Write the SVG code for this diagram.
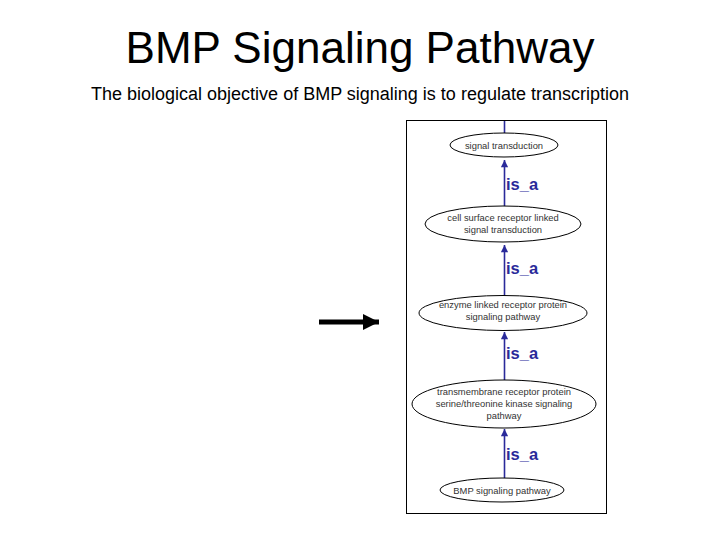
<svg xmlns="http://www.w3.org/2000/svg" width="720" height="540" viewBox="0 0 720 540">
<defs>
<style>
.title{font-family:"Liberation Sans",Arial,sans-serif;font-size:44px;fill:#000}
.sub{font-family:"Liberation Sans",Arial,sans-serif;font-size:18px;fill:#000}
.node ellipse{fill:#fff;stroke:#000;stroke-width:1}
.node text{font-family:"Liberation Sans",Arial,sans-serif;font-size:9.4px;fill:#333;text-anchor:middle}
.edge{stroke:#2a2a9a;stroke-width:1.6;fill:none}
.lbl{font-family:"Liberation Sans",Arial,sans-serif;font-size:16.5px;font-weight:bold;fill:#2a2a9a}
</style>
<marker id="ah" viewBox="0 0 10 10" refX="10" refY="5" markerWidth="6" markerHeight="4.5" orient="auto" markerUnits="strokeWidth">
<path d="M0,0 L10,5 L0,10 z" fill="#2a2a9a"/>
</marker>
<marker id="bh" viewBox="0 0 10 10" refX="10" refY="5" markerWidth="3.2" markerHeight="3.2" orient="auto" markerUnits="strokeWidth">
<path d="M0,0 L10,5 L0,10 z" fill="#000"/>
</marker>
</defs>
<rect width="720" height="540" fill="#fff"/>
<text class="title" x="360" y="63" text-anchor="middle">BMP Signaling Pathway</text>
<text class="sub" x="360" y="100" text-anchor="middle">The biological objective of BMP signaling is to regulate transcription</text>
<rect id="frame" x="406.5" y="120.5" width="200" height="393" fill="#fff" stroke="#000" stroke-width="1"/>
<g id="connectors">
<line class="edge" x1="504.5" y1="121" x2="504.5" y2="133"/>
<line class="edge" x1="504.5" y1="206" x2="504.5" y2="160" marker-end="url(#ah)"/>
<line class="edge" x1="504.5" y1="296" x2="504.5" y2="245" marker-end="url(#ah)"/>
<line class="edge" x1="504.5" y1="381" x2="504.5" y2="332" marker-end="url(#ah)"/>
<line class="edge" x1="504.5" y1="478" x2="504.5" y2="429" marker-end="url(#ah)"/>
<text class="lbl" x="506" y="190">is_a</text>
<text class="lbl" x="506" y="274">is_a</text>
<text class="lbl" x="506" y="359">is_a</text>
<text class="lbl" x="506" y="460">is_a</text>
<line id="bigarrow" x1="319" y1="322" x2="379" y2="322" stroke="#000" stroke-width="5" marker-end="url(#bh)"/>
</g>
<g id="n1" class="node"><ellipse cx="504" cy="145" rx="54" ry="12"/><text x="504" y="148.5">signal transduction</text></g>
<g id="n2" class="node"><ellipse cx="503" cy="224" rx="78" ry="18"/><text x="503" y="221">cell surface receptor linked</text><text x="503" y="233">signal transduction</text></g>
<g id="n3" class="node"><ellipse cx="503" cy="313" rx="84" ry="17.5"/><text x="503" y="307.5">enzyme linked receptor protein</text><text x="503" y="319.5">signaling pathway</text></g>
<g id="n4" class="node"><ellipse cx="504" cy="404" rx="92" ry="24"/><text x="504" y="394.5">transmembrane receptor protein</text><text x="504" y="406.5">serine/threonine kinase signaling</text><text x="504" y="418.5">pathway</text></g>
<g id="n5" class="node"><ellipse cx="502" cy="490" rx="62" ry="12"/><text x="502" y="493.5">BMP signaling pathway</text></g>
</svg>
